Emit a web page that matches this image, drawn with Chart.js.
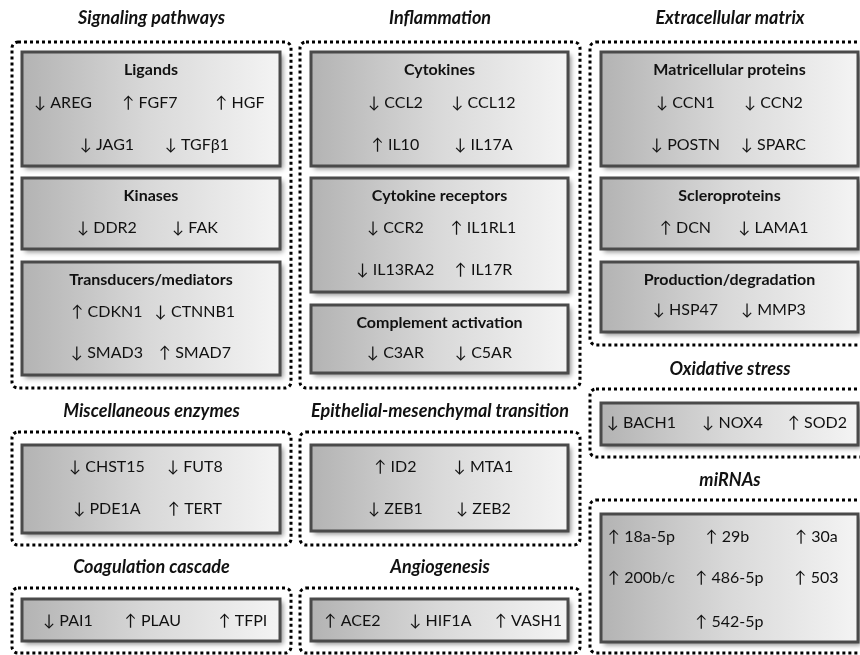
<!DOCTYPE html>
<html>
<head>
<meta charset="utf-8">
<script src="https://cdn.jsdelivr.net/npm/chart.js@4"></script>
<style>
  html, body { margin: 0; padding: 0; background: #fff; }
</style>
</head>
<body>
<canvas id="chart" width="860" height="655"></canvas>
<script>
// group titles (italic headers above the dotted frames)
const groupTitles = ['Signaling pathways', 'Inflammation', 'Extracellular matrix', 'Oxidative stress',
  'Miscellaneous enzymes', 'Epithelial-mesenchymal transition', 'miRNAs', 'Coagulation cascade', 'Angiogenesis'];

// sub-box headings
const headings = ['Ligands', 'Kinases', 'Transducers/mediators', 'Cytokines', 'Cytokine receptors',
  'Complement activation', 'Matricellular proteins', 'Scleroproteins', 'Production/degradation'];

// genes per box, arrow = direction of change
const ligands = ['↓ AREG', '↑ FGF7', '↑ HGF', '↓ JAG1', '↓ TGFβ1'];
const kinases = ['↓ DDR2', '↓ FAK'];
const transducers = ['↑ CDKN1', '↓ CTNNB1', '↓ SMAD3', '↑ SMAD7'];
const cytokines = ['↓ CCL2', '↓ CCL12', '↑ IL10', '↓ IL17A'];
const cytokineReceptors = ['↓ CCR2', '↑ IL1RL1', '↓ IL13RA2', '↑ IL17R'];
const complement = ['↓ C3AR', '↓ C5AR'];
const matricellular = ['↓ CCN1', '↓ CCN2', '↓ POSTN', '↓ SPARC'];
const scleroproteins = ['↑ DCN', '↓ LAMA1'];
const production = ['↓ HSP47', '↓ MMP3'];
const oxidative = ['↓ BACH1', '↓ NOX4', '↑ SOD2'];
const miscEnzymes = ['↓ CHST15', '↓ FUT8', '↓ PDE1A', '↑ TERT'];
const emt = ['↑ ID2', '↓ MTA1', '↓ ZEB1', '↓ ZEB2'];
const mirnas = ['↑ 18a-5p', '↑ 29b', '↑ 30a', '↑ 200b/c', '↑ 486-5p', '↑ 503', '↑ 542-5p'];
const coagulation = ['↓ PAI1', '↑ PLAU', '↑ TFPI'];
const angiogenesis = ['↑ ACE2', '↓ HIF1A', '↑ VASH1'];

// ---- layout (chart units = px of the 860x655 figure) ----
// dotted frames: x0, y0, x1, y1, title y
const frames = [
  [12, 42, 291, 388, 18],
  [300, 42, 580, 388, 18],
  [590, 42, 869, 345, 18],
  [590, 389, 869, 457, 369],
  [12, 432, 291, 545, 411],
  [300, 432, 580, 545, 411],
  [590, 500, 869, 653, 480],
  [12, 588, 291, 653, 567],
  [300, 588, 580, 653, 567]
];

// grey panels: box, heading index (-1 = none), genes, rows of [y offset from top, x offsets from centre]
const two = [-44, 44];
const three = [-87, 1, 89];
const panels = [
  { box: [22, 52, 280, 166], head: 0, items: ligands, rows: [[51, [-88, -1, 89]], [93, [-44, 46]]] },
  { box: [22, 178, 280, 249], head: 1, items: kinases, rows: [[50, two]] },
  { box: [22, 262, 280, 375], head: 2, items: transducers, rows: [[50, two], [91, two]] },
  { box: [311, 52, 568, 166], head: 3, items: cytokines, rows: [[51, two], [93, two]] },
  { box: [311, 178, 568, 292], head: 4, items: cytokineReceptors, rows: [[50, two], [92, two]] },
  { box: [311, 305, 568, 373], head: 5, items: complement, rows: [[48, two]] },
  { box: [601, 52, 858, 166], head: 6, items: matricellular, rows: [[51, two], [93, two]] },
  { box: [601, 178, 858, 249], head: 7, items: scleroproteins, rows: [[50, two]] },
  { box: [601, 262, 858, 332], head: 8, items: production, rows: [[48, two]] },
  { box: [601, 403, 858, 445], head: -1, items: oxidative, rows: [[20, [-88, 3, 88]]] },
  { box: [22, 445, 280, 533], head: -1, items: miscEnzymes, rows: [[22, two], [64, two]] },
  { box: [311, 445, 568, 531], head: -1, items: emt, rows: [[22, two], [64, two]] },
  { box: [601, 514, 858, 642], head: -1, items: mirnas, rows: [[23, [-88, -2, 87]], [64, [-88, 0, 87]], [108, [0]]] },
  { box: [22, 599, 280, 641], head: -1, items: coagulation, rows: [[22, [-83, 2, 92]]] },
  { box: [311, 599, 568, 641], head: -1, items: angiogenesis, rows: [[22, three]] }
];

// one point per gene, placed on the panel grid
const genePoints = [];
panels.forEach(p => {
  const cx = (p.box[0] + p.box[2]) / 2;
  let k = 0;
  p.rows.forEach(([dy, slots]) => {
    slots.forEach(dx => {
      genePoints.push({ x: cx + dx, y: p.box[1] + dy, t: p.items[k++] });
    });
  });
});

const TXT = '#111';
const FONT = 'Lato, "Open Sans", "DejaVu Sans", sans-serif';

const diagram = {
  id: 'diagram',
  beforeDatasetsDraw(chart) {
    const { ctx, scales: { x, y } } = chart;
    ctx.save();
    ctx.textAlign = 'center';
    ctx.textBaseline = 'middle';

    // dotted frames + titles
    frames.forEach((f, i) => {
      const x0 = x.getPixelForValue(f[0]), x1 = x.getPixelForValue(f[2]);
      const y0 = y.getPixelForValue(f[1]), y1 = y.getPixelForValue(f[3]);
      ctx.setLineDash([3, 3]);
      ctx.lineWidth = 3;
      ctx.strokeStyle = '#000';
      ctx.beginPath();
      ctx.roundRect(x0, y0, x1 - x0, y1 - y0, 6);
      ctx.stroke();
      ctx.setLineDash([]);
      ctx.fillStyle = TXT;
      ctx.font = 'italic bold 18px ' + FONT;
      const cx = f[2] > 860 ? x.getPixelForValue(730) : (x0 + x1) / 2;
      ctx.fillText(groupTitles[i], cx, y.getPixelForValue(f[4]));
    });

    // grey panels
    panels.forEach(p => {
      const x0 = x.getPixelForValue(p.box[0]), x1 = x.getPixelForValue(p.box[2]);
      const y0 = y.getPixelForValue(p.box[1]), y1 = y.getPixelForValue(p.box[3]);
      const g = ctx.createLinearGradient(x0, 0, x1, 0);
      g.addColorStop(0, '#b3b3b3');
      g.addColorStop(0.5, '#d9d9d9');
      g.addColorStop(1, '#f4f4f4');
      ctx.save();
      ctx.shadowColor = 'rgba(0,0,0,0.45)';
      ctx.shadowBlur = 5;
      ctx.shadowOffsetX = 3;
      ctx.shadowOffsetY = 3;
      ctx.fillStyle = g;
      ctx.fillRect(x0, y0, x1 - x0, y1 - y0);
      ctx.restore();
      ctx.lineWidth = 3;
      ctx.strokeStyle = '#4a4a4a';
      ctx.strokeRect(x0, y0, x1 - x0, y1 - y0);
      if (p.head >= 0) {
        ctx.fillStyle = TXT;
        ctx.font = 'bold 16px ' + FONT;
        ctx.fillText(headings[p.head], (x0 + x1) / 2, y0 + 18);
      }
    });
    ctx.restore();
  },
  afterDatasetsDraw(chart) {
    const { ctx } = chart;
    const meta = chart.getDatasetMeta(0);
    ctx.save();
    ctx.textAlign = 'center';
    ctx.textBaseline = 'middle';
    ctx.fillStyle = TXT;
    ctx.font = '16px ' + FONT;
    meta.data.forEach((pt, i) => {
      ctx.fillText(genePoints[i].t, pt.x, pt.y);
    });
    ctx.restore();
  }
};

new Chart(document.getElementById('chart').getContext('2d'), {
  type: 'scatter',
  data: {
    datasets: [{
      data: genePoints,
      pointRadius: 0,
      pointHoverRadius: 0
    }]
  },
  options: {
    responsive: false,
    animation: false,
    layout: { padding: 0 },
    plugins: { legend: { display: false }, tooltip: { enabled: false } },
    scales: {
      x: { type: 'linear', min: 0, max: 860, display: false },
      y: { type: 'linear', min: 0, max: 655, reverse: true, display: false }
    }
  },
  plugins: [diagram]
});
</script>
</body>
</html>
